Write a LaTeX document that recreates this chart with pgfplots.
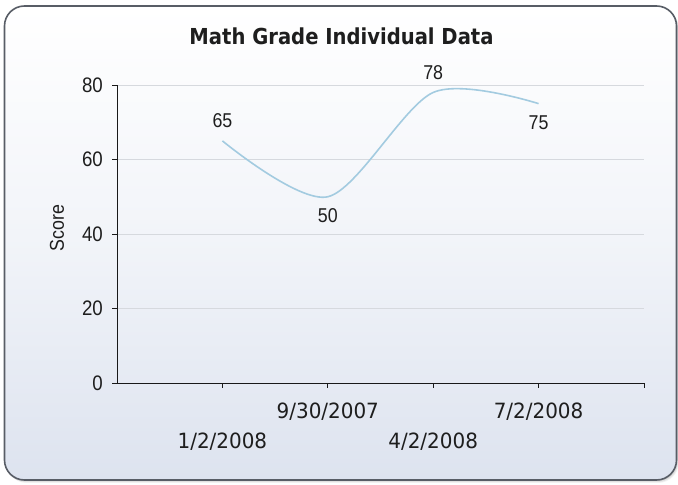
\documentclass[border=0pt]{standalone}
\usepackage{pgfplots}
\pgfplotsset{compat=1.18}
\usepackage{pgfplotstable}
\usepackage{fontspec}
\setmainfont{Liberation Sans}
\newfontfamily\labfont[FakeStretch=0.89]{Liberation Sans}
\newfontfamily\xfont[FakeStretch=0.95]{DejaVu Sans}
\newfontfamily\titlefont[FakeStretch=0.89]{DejaVu Sans Bold}
\definecolor{linec}{RGB}{163,203,224}
\definecolor{gridc}{RGB}{214,217,222}
\definecolor{borderc}{RGB}{88,93,102}
\definecolor{bgbot}{RGB}{221,227,239}
\definecolor{txt}{RGB}{30,30,30}
\pgfplotstableread{
x y off
1 65 20
2 50 -19
3 78 20
4 75 -19
}\grades
\begin{document}
\begin{tikzpicture}
\path[use as bounding box] (0,0) rectangle (678bp,485bp);
% soft shadow
\fill[black,opacity=0.05,rounded corners=21bp] (6bp,2bp) rectangle (679bp,477bp);
\fill[black,opacity=0.07,rounded corners=20bp] (5.5bp,3bp) rectangle (678bp,478bp);
\fill[black,opacity=0.09,rounded corners=20bp] (5bp,4bp) rectangle (677.5bp,478.5bp);
% panel
\path[draw=borderc, line width=1.6bp, top color=white, bottom color=bgbot, middle color=white!60!bgbot, rounded corners=20bp]
  (4.5bp,5bp) rectangle (676.5bp,479bp);
\begin{axis}[
  at={(117bp,102bp)}, anchor=south west,
  scale only axis, width=527bp, height=298bp,
  xmin=0, xmax=5, ymin=0, ymax=80,
  axis lines=left,
  axis line style={-, black!90, line width=0.9bp},
  ytick={0,20,40,60,80},
  ymajorgrids, grid style={gridc, line width=0.8bp},
  xtick={1,2,3,4,5},
  xticklabels={{\rule{0pt}{60bp}1/2/2008},{\rule{0pt}{30bp}9/30/2007},{\rule{0pt}{60bp}4/2/2008},{\rule{0pt}{30bp}7/2/2008},{}},
  tick align=outside, major tick length=5bp,
  tick style={black!90, line width=0.9bp},
  /pgf/number format/assume math mode=true,
  yticklabel style={font=\labfont\fontsize{21bp}{21bp}\selectfont, text=txt, inner sep=0pt, xshift=-9bp},
  xticklabel style={font=\xfont\fontsize{21bp}{21bp}\selectfont, text=txt, anchor=north, inner sep=0pt},
  ylabel={Score},
  ylabel style={font=\labfont\fontsize{20bp}{20bp}\selectfont, text=txt, at={(axis description cs:-0.114,0.52)}, anchor=center},
  title={Math Grade Individual Data},
  title style={font=\titlefont\fontsize{22bp}{22bp}\selectfont, text=txt, at={(axis description cs:0.426,1.117)}, anchor=base},
  clip=false,
]
\addplot[linec, line width=1.6bp, smooth, mark=none,
  nodes near coords, point meta=explicit symbolic,
  visualization depends on={\thisrow{off} \as \off},
  every node near coord/.append style={anchor=center, yshift=\off bp, font=\labfont\fontsize{20bp}{20bp}\selectfont, text=txt}]
  table[x=x, y=y, meta=y] {\grades};
\end{axis}
\end{tikzpicture}
\end{document}
